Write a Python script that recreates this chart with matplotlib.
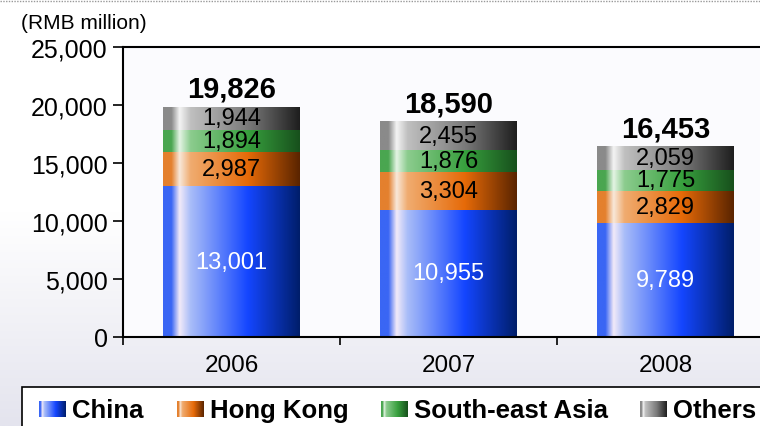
import numpy as np
import matplotlib
matplotlib.use('Agg')
import matplotlib.pyplot as plt
from matplotlib.colors import LinearSegmentedColormap
from matplotlib.patches import Rectangle
from matplotlib.lines import Line2D

plt.rcParams['font.family'] = ['Liberation Sans', 'DejaVu Sans']

years = ['2006', '2007', '2008']
series = ['China', 'Hong Kong', 'South-east Asia', 'Others']
china = [13001, 10955, 9789]
hong_kong = [2987, 3304, 2829]
se_asia = [1894, 1876, 1775]
others = [1944, 2455, 2059]
totals = [19826, 18590, 16453]
values = [china, hong_kong, se_asia, others]

# (edge, highlight, light, base, dark) for the cylinder-like shading
shades = [
    ('#3a66f4', '#f2eaf8', '#a9bdf8', '#1446ff', '#001e6a'),
    ('#e4802e', '#f8e8da', '#f0ac70', '#e66a08', '#5a2400'),
    ('#4aa650', '#e4f4e4', '#8ccc8e', '#38a03e', '#17501c'),
    ('#8a8a8a', '#f4f4f4', '#c0c0c0', '#7a7a7a', '#1e1e1e'),
]
label_colors = ['white', 'black', 'black', 'black']


def make_cmap(c):
    edge, hi, light, base, dark = c
    return LinearSegmentedColormap.from_list(
        'g', [(0, edge), (0.06, edge), (0.12, hi), (0.2, light), (0.62, base), (1.0, dark)])


cmaps = [make_cmap(c) for c in shades]
grad = np.linspace(0, 1, 256).reshape(1, -1)

fig = plt.figure(figsize=(7.6, 4.27), dpi=100)

# figure background gradient
bg = fig.add_axes([0, 0, 1, 1], zorder=-10)
bg.imshow(np.linspace(0, 1, 256).reshape(-1, 1), aspect='auto', extent=[0, 1, 0, 1],
          cmap=LinearSegmentedColormap.from_list('bg', ['#ffffff', '#ffffff', '#e4e4ee']))
bg.set_axis_off()
fig.add_artist(Line2D([0, 1], [0.996, 0.996], color='#999999', lw=1, ls=(0, (1, 1))))

ax = fig.add_axes([123 / 760, 89 / 427, 651 / 760, 290 / 427])
ax.set_facecolor('#fbfbfe')

x = np.arange(len(years))
width = 0.63
bottom = np.zeros(len(years))
for i, vals in enumerate(values):
    bars = ax.bar(x, vals, width, bottom=bottom, color='none', linewidth=0)
    for b, v in zip(bars, vals):
        x0, y0 = b.get_x(), b.get_y()
        ax.imshow(grad, aspect='auto', cmap=cmaps[i], zorder=2,
                  extent=[x0, x0 + b.get_width(), y0, y0 + b.get_height()])
        ax.text(x0 + b.get_width() / 2, y0 + b.get_height() / 2, f'{v:,}',
                ha='center', va='center', fontsize=17, color=label_colors[i], zorder=3)
    bottom += np.array(vals)

for xi, t in zip(x, totals):
    ax.text(xi, t + 350, f'{t:,}', ha='center', va='bottom', fontsize=21,
            fontweight='bold', zorder=3)

ax.set_xlim(-0.5, 2.5)
ax.set_ylim(0, 25000)
ax.set_yticks(np.arange(0, 25001, 5000))
ax.set_yticklabels([f'{v:,}' for v in range(0, 25001, 5000)], fontsize=18)
ax.tick_params(axis='y', direction='out', length=7, width=1.2, pad=4)
ax.set_xticks(x)
ax.set_xticklabels(years, fontsize=17.5)
ax.tick_params(axis='x', which='major', length=0, pad=12)
ax.set_xticks([-0.5, 0.5, 1.5, 2.5], minor=True)
ax.tick_params(axis='x', which='minor', direction='out', length=6, width=1.2)
for s in ax.spines.values():
    s.set_linewidth(1.5)
ax.text(-0.157, 1.052, '(RMB million)', transform=ax.transAxes, ha='left', va='bottom',
        fontsize=15)

# legend box drawn manually with gradient swatches
leg = fig.add_axes([0, 0, 1, 1], zorder=5)
leg.set_axis_off()
leg.add_patch(Rectangle((22, 388), 760, 60, facecolor='white', edgecolor='black', lw=1.2))
swatch_x = [39, 177, 381, 640]
for i, (sx, name) in enumerate(zip(swatch_x, series)):
    leg.imshow(grad, aspect='auto', cmap=cmaps[i], extent=[sx, sx + 27, 418, 402], zorder=6)
    leg.text(sx + 33, 411, name, fontsize=18.5, fontweight='bold', va='center', ha='left')
leg.set_xlim(0, 760)
leg.set_ylim(427, 0)

fig.savefig('out.png', dpi=100)
